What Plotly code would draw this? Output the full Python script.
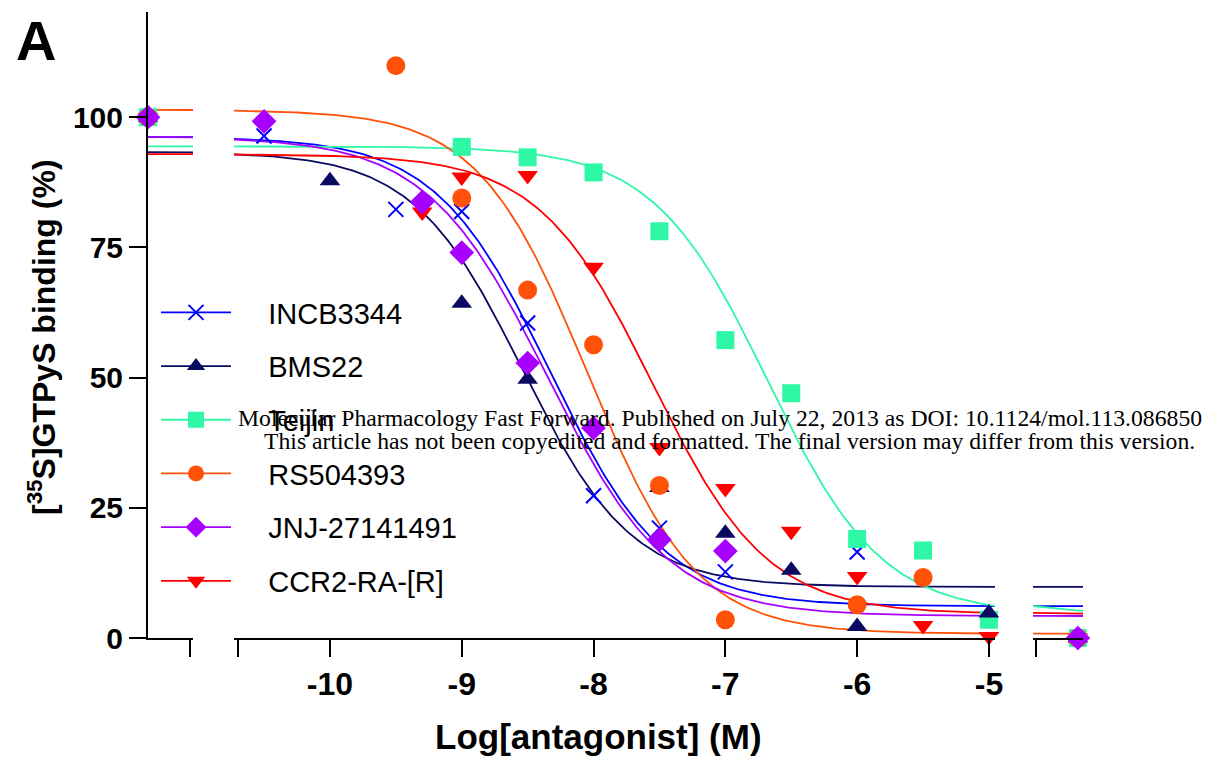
import numpy as np
import plotly.graph_objects as go

# ---------------- data ----------------
names = ["INCB3344", "BMS22", "Teijin", "RS504393", "JNJ-27141491", "CCR2-RA-[R]"]
colors = ["#0000FF", "#0A0A62", "#2EF7A6", "#FF5208", "#A800FF", "#FF0000"]
symbols = ["x-thin", "triangle-up", "square", "circle", "diamond", "triangle-down"]
msizes = [15, 18, 18, 19, 19, 18]

incb_x = [-10.5, -9.5, -9, -8.5, -8, -7.5, -7, -6]
incb_y = [96.4, 82.3, 81.9, 60.5, 27.3, 21.1, 12.7, 16.5]
bms_x = [-10, -9, -8.5, -7.5, -7, -6.5, -6, -5]
bms_y = [87.8, 64.3, 49.7, 28.9, 20.1, 13.0, 2.2, 4.8]
teijin_x = [-9, -8.5, -8, -7.5, -7, -6.5, -6, -5.5, -5]
teijin_y = [94.3, 92.3, 89.4, 78.1, 57.2, 47.0, 19.0, 16.8, 3.5]
rs_x = [-9.5, -9, -8.5, -8, -7.5, -7, -6, -5.5]
rs_y = [109.9, 84.5, 66.8, 56.3, 29.3, 3.5, 6.4, 11.6]
jnj_x = [-10.5, -9.3, -9, -8.5, -8, -7.5, -7]
jnj_y = [99.2, 83.7, 74.0, 52.8, 40.3, 18.9, 16.7]
ccr2_x = [-9.3, -9, -8.5, -8, -7.5, -7, -6.5, -6, -5.5, -5]
ccr2_y = [81.8, 88.5, 88.8, 71.2, 36.6, 28.7, 20.5, 11.8, 2.4, 0.3]

# control (no antagonist) and reference (full inhibition) values
control_x = -12.0
control_y = [100, 100, 100, 100, 100, 100]
reference_x = -4.61
reference_y = [0, 0, 0, 0, 0, 0]

# four-parameter logistic fit parameters (top, bottom, logIC50, Hill slope)
fit_top = [96.2, 93.3, 94.4, 101.4, 96.2, 92.9]
fit_bottom = [6.1, 9.8, 4.5, 0.8, 4.2, 4.6]
fit_logic50 = [-8.33, -8.54, -6.68, -8.05, -8.35, -7.55]
fit_hill = [1.0, 1.05, 1.0, 1.05, 0.95, 1.0]

xs = [incb_x, bms_x, teijin_x, rs_x, jnj_x, ccr2_x]
ys = [incb_y, bms_y, teijin_y, rs_y, jnj_y, ccr2_y]

# order in which the data points are stacked (last on top)
point_order = [5, 0, 2, 1, 3, 4]

y_ticks = [0, 25, 50, 75, 100]
x_ticks = [-10, -9, -8, -7, -6, -5]

# axis segment ranges (broken x axis)
seg_left = [-12.0, -11.659]
seg_main = [-10.728, -4.954]
seg_right = [-4.95, -4.571]


def logistic(x, i):
    return fit_bottom[i] + (fit_top[i] - fit_bottom[i]) / (1 + 10 ** ((x - fit_logic50[i]) * fit_hill[i]))


def marker(i):
    return dict(symbol=symbols[i], size=msizes[i], color=colors[i],
                line=dict(color=colors[i], width=2 if symbols[i] == "x-thin" else 0))


fig = go.Figure()

# fitted curves
for i in range(len(names)):
    for ax, seg in (("x", seg_left), ("x2", seg_main), ("x3", seg_right)):
        cx = np.linspace(seg[0], seg[1], 300)
        fig.add_trace(go.Scatter(
            x=cx, y=logistic(cx, i), mode="lines", xaxis=ax, yaxis="y",
            line=dict(color=colors[i], width=1.8), showlegend=False, hoverinfo="skip",
            cliponaxis=False))

# data points
for i in point_order:
    fig.add_trace(go.Scatter(x=[control_x], y=[control_y[i]], mode="markers", xaxis="x", yaxis="y",
                             marker=marker(i), showlegend=False, cliponaxis=False))
    fig.add_trace(go.Scatter(x=xs[i], y=ys[i], mode="markers", xaxis="x2", yaxis="y",
                             marker=marker(i), showlegend=False, cliponaxis=False))
    fig.add_trace(go.Scatter(x=[reference_x], y=[reference_y[i]], mode="markers", xaxis="x3", yaxis="y",
                             marker=marker(i), showlegend=False, cliponaxis=False))

# legend entries (legend order as in the reference)
PAD = "\u00a0" * 4
for i in range(len(names)):
    fig.add_trace(go.Scatter(
        x=[None], y=[None], mode="lines+markers", name=PAD + names[i], xaxis="x2", yaxis="y",
        legendgroup=names[i], legendrank=i + 1,
        line=dict(color=colors[i], width=1.8), marker=marker(i)))

# page body adds an 8px margin; work in reference-pixel coordinates
OFF = 8
W, H = 1228 - OFF, 758 - OFF
PL, PR, PT, PB = 148, 1083, 12, 638          # plot area in reference pixels
L, T = PL - OFF, PT - OFF
R, B = W - (PR - OFF), H - (PB - OFF)
pw, ph = PR - PL, PB - PT


def px(x):
    return (x - PL) / pw


def py(y):
    return (PB - y) / ph


def dom(a, b):
    return [px(a), px(b)]


font_b = dict(family="Liberation Sans, Arial", color="black", weight="bold")
axis_common = dict(showline=True, linecolor="black", linewidth=2, ticks="outside", ticklen=17,
                   tickwidth=2, tickcolor="black", showgrid=False, zeroline=False, anchor="y",
                   tickfont=dict(size=32, **font_b))
minor_common = dict(ticks="outside", ticklen=17, tickwidth=2, tickcolor="black", showgrid=False)

fig.update_layout(
    width=W, height=H,
    margin=dict(l=L, r=R, t=T, b=B),
    paper_bgcolor="white", plot_bgcolor="white",
    xaxis=dict(domain=dom(148, 193), range=seg_left, tickvals=[], showticklabels=False,
               minor=dict(tickvals=[-11.68], **minor_common), **axis_common),
    xaxis2=dict(domain=dom(234, 995), range=seg_main, tickvals=x_ticks,
                ticktext=[str(v) for v in x_ticks],
                minor=dict(tickvals=[-10.70], **minor_common), **axis_common),
    xaxis3=dict(domain=dom(1033, 1083), range=seg_right, tickvals=[], showticklabels=False,
                minor=dict(tickvals=[-4.925], **minor_common), **axis_common),
    yaxis=dict(domain=[0, 1], range=[0, 120.2], anchor="x", tickvals=y_ticks,
               showline=True, linecolor="black", linewidth=2, ticks="outside", ticklen=17,
               tickwidth=2, tickcolor="black", showgrid=False, zeroline=False,
               tickfont=dict(size=30, **font_b)),
    showlegend=True,
    legend=dict(x=px(156), y=py(287), xanchor="left", yanchor="top", bgcolor="rgba(0,0,0,0)",
                font=dict(family="Liberation Sans, Arial", size=29, color="black"),
                traceorder="grouped", tracegroupgap=13, itemwidth=70, itemsizing="trace"),
)

fig.add_annotation(text="Log[antagonist] (M)", xref="paper", yref="paper",
                   x=px(598), y=py(737), showarrow=False,
                   xanchor="center", yanchor="middle", font=dict(size=35, **font_b))
fig.add_annotation(text="[<sup>35</sup>S]GTPyS binding (%)", xref="paper", yref="paper",
                   x=px(42), y=py(337), showarrow=False, textangle=-90,
                   xanchor="center", yanchor="middle", font=dict(size=32, **font_b))
fig.add_annotation(text="A", xref="paper", yref="paper",
                   x=px(36), y=py(40), showarrow=False,
                   xanchor="center", yanchor="middle", font=dict(size=56, **font_b))
wm_font = dict(family="Liberation Serif, Times New Roman", size=23.7, color="black")
fig.add_annotation(text="Molecular Pharmacology Fast Forward. Published on July 22, 2013 as DOI: 10.1124/mol.113.086850",
                   xref="paper", yref="paper", x=px(720), y=py(418),
                   showarrow=False, xanchor="center", yanchor="middle", font=wm_font)
fig.add_annotation(text="This article has not been copyedited and formatted. The final version may differ from this version.",
                   xref="paper", yref="paper", x=px(729), y=py(441),
                   showarrow=False, xanchor="center", yanchor="middle", font=wm_font)

fig.write_html("out.html")
